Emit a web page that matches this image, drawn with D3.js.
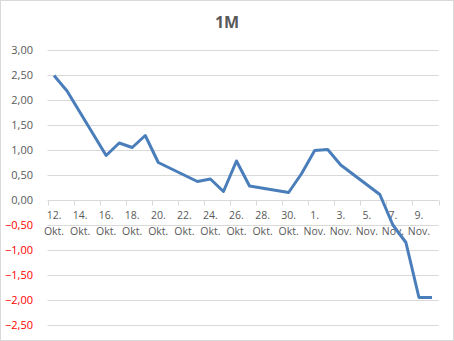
<!DOCTYPE html>
<html>
<head>
<meta charset="utf-8">
<script src="https://cdn.jsdelivr.net/npm/d3@7"></script>
<style>
  body { margin: 0; background: #fff; }
  text { font-family: "Open Sans", "Liberation Sans", sans-serif; }
</style>
</head>
<body>
<div id="chart"></div>
<script>
// day index from 12. Okt. (0) to 10. Nov. (29); gaps are days with no value
const dayIndex = [0, 1, 4, 5, 6, 7, 8, 11, 12, 13, 14, 15, 18, 19, 20, 21, 22, 25, 26, 27, 28, 29];
const values = [2.49, 2.18, 0.89, 1.14, 1.05, 1.29, 0.75, 0.37, 0.42, 0.17, 0.78, 0.28,
                0.15, 0.53, 0.99, 1.01, 0.70, 0.11, -0.50, -0.85, -1.95, -1.95];
const dayCount = 30;
const tickDays = ["12.", "14.", "16.", "18.", "20.", "22.", "24.", "26.", "28.", "30.",
                  "1.", "3.", "5.", "7.", "9."];
const tickMonths = ["Okt.", "Okt.", "Okt.", "Okt.", "Okt.", "Okt.", "Okt.", "Okt.", "Okt.", "Okt.",
                    "Nov.", "Nov.", "Nov.", "Nov.", "Nov."];
const yTicks = [3, 2.5, 2, 1.5, 1, 0.5, 0, -0.5, -1, -1.5, -2, -2.5];

const width = 454, height = 341;
const margin = {top: 50, right: 15, bottom: 16, left: 47.5};

const svg = d3.select("#chart").append("svg")
  .attr("width", width)
  .attr("height", height);

// chart border
svg.append("rect")
  .attr("x", 0.5).attr("y", 0.5)
  .attr("width", width - 1).attr("height", height - 1)
  .attr("fill", "#fff")
  .attr("stroke", "#d9d9d9");

svg.append("text")
  .attr("x", 227).attr("y", 28)
  .attr("text-anchor", "middle")
  .attr("font-size", 16).attr("font-weight", "bold")
  .attr("fill", "#595959")
  .text("1M");

const x = d3.scaleLinear().domain([0, dayCount]).range([margin.left, 438.5]);
const y = d3.scaleLinear().domain([-2.5, 3]).range([325, 50]);

// gridlines
svg.append("g")
  .selectAll("line")
  .data(yTicks.filter(d => d !== 0))
  .join("line")
  .attr("x1", x(0)).attr("x2", x(dayCount))
  .attr("y1", d => Math.round(y(d)) + 0.5).attr("y2", d => Math.round(y(d)) + 0.5)
  .attr("stroke", "#d9d9d9");

// y labels
svg.append("g")
  .selectAll("text")
  .data(yTicks)
  .join("text")
  .attr("x", 33)
  .attr("y", d => y(d))
  .attr("dy", "0.35em")
  .attr("text-anchor", "end")
  .attr("font-size", 11)
  .attr("fill", d => d < 0 ? "#ff0000" : "#595959")
  .text(d => d3.format(".2f")(d).replace(".", ","));

// x axis at zero
const zeroY = Math.round(y(0)) + 0.5;
const xAxis = svg.append("g");
xAxis.append("line")
  .attr("x1", x(0)).attr("x2", x(dayCount))
  .attr("y1", zeroY).attr("y2", zeroY)
  .attr("stroke", "#d9d9d9");
xAxis.selectAll("line.tick")
  .data(d3.range(0, dayCount + 1, 2))
  .join("line")
  .attr("class", "tick")
  .attr("x1", d => Math.round(x(d)) + 0.5).attr("x2", d => Math.round(x(d)) + 0.5)
  .attr("y1", zeroY).attr("y2", zeroY + 5)
  .attr("stroke", "#d9d9d9");

const labels = xAxis.selectAll("g.lab")
  .data(tickDays.map((d, i) => ({day: d, month: tickMonths[i], idx: i * 2})))
  .join("g")
  .attr("class", "lab")
  .attr("transform", d => `translate(${x(d.idx + 0.5)},0)`);
labels.append("text")
  .attr("y", 219)
  .attr("text-anchor", "middle")
  .attr("font-size", 10.5)
  .attr("fill", "#595959")
  .text(d => d.day);
labels.append("text")
  .attr("y", 235)
  .attr("text-anchor", "middle")
  .attr("font-size", 10.5)
  .attr("fill", "#595959")
  .text(d => d.month);

// series line
const line = d3.line()
  .x((d, i) => x(dayIndex[i] + 0.5))
  .y(d => y(d));

svg.append("path")
  .datum(values)
  .attr("d", line)
  .attr("fill", "none")
  .attr("stroke", "#4a7ebb")
  .attr("stroke-width", 3)
  .attr("stroke-linejoin", "round");
</script>
</body>
</html>
